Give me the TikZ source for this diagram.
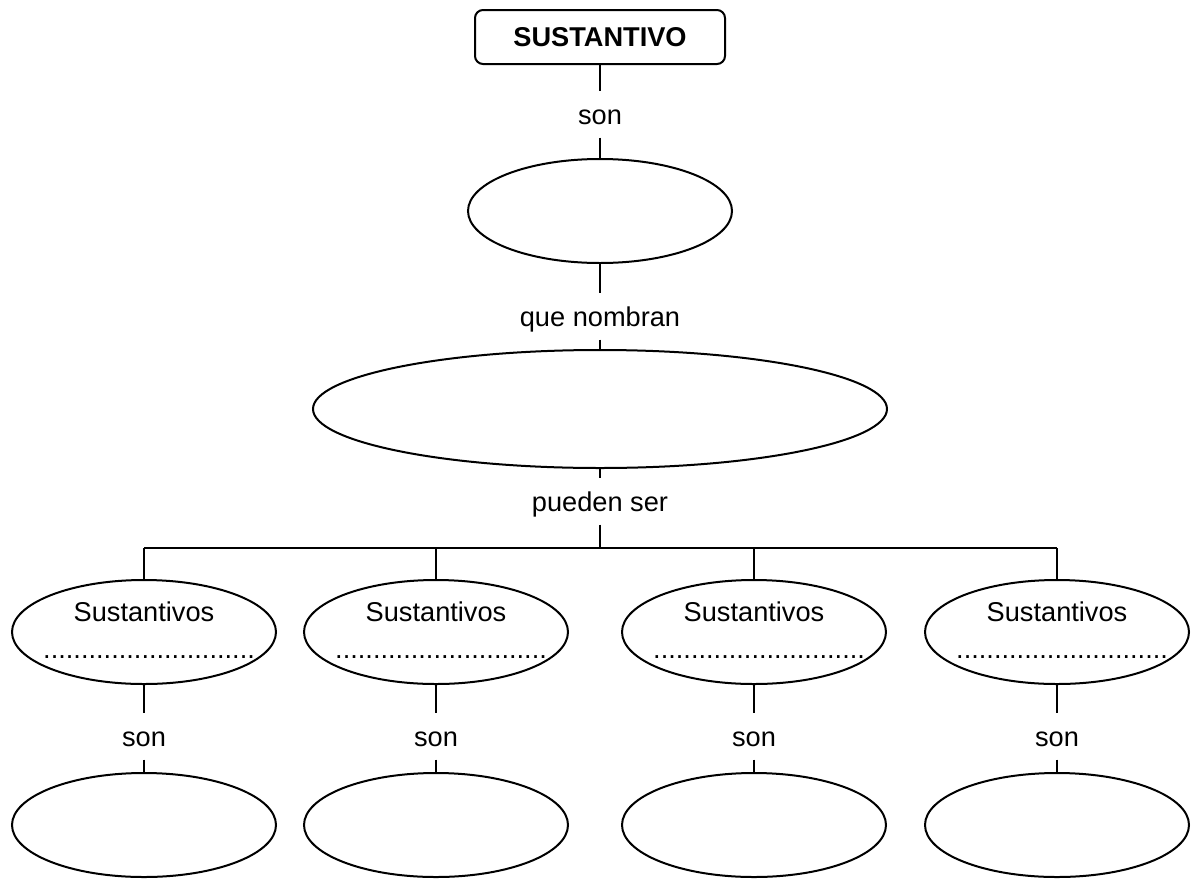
\documentclass[tikz,border=0pt]{standalone}
\usepackage{fontspec}
\setmainfont{Liberation Sans}
\usetikzlibrary{shapes.geometric}

\begin{document}
\begin{tikzpicture}[x=0.5pt, y=-0.5pt, line width=1pt,
  every node/.style={font=\fontsize{13.6}{16}\selectfont},
  oval/.style={draw, ellipse, inner sep=0pt, minimum width=132pt, minimum height=52pt},
  link/.style={inner sep=0pt, minimum height=22.5pt, text height=12pt, text depth=1.5pt}]

  \useasboundingbox (0,0) rectangle (1193,878);

  % Title box
  \node[draw, rounded corners=4pt, minimum width=125pt, minimum height=27pt, inner sep=0pt,
        font=\fontsize{13.6}{16}\selectfont\bfseries] (title) at (600,37) {SUSTANTIVO};

  % Central chain
  \node[link] (son) at (600,114) {son};
  \node[oval] (what) at (600,211) {};
  \node[link] (nombran) at (600,316) {que nombran};
  \node[oval, minimum width=287pt, minimum height=59pt] (things) at (600,409) {};
  \node[link] (pueden) at (600,501) {pueden ser};
  \draw (title) -- (son) -- (what) -- (nombran) -- (things) -- (pueden);

  % Bus to the four kinds
  \coordinate (bus) at (600,548);
  \coordinate (busL) at (144,548);
  \coordinate (busR) at (1057,548);
  \draw (pueden) -- (bus);
  \draw (busL) -- (busR);

  % The four kinds
  \foreach \x [count=\i] in {144,436,754,1057} {
    \coordinate (drop\i) at (\x,548);
    \node[oval] (kind\i) at (\x,632) {};
    \node at (\x,612) {Sustantivos};
    \node[anchor=base] at (\x+5,658) {............................};
    \node[link] (son\i) at (\x,736) {son};
    \node[oval] (ex\i) at (\x,825) {};
    \draw (drop\i) -- (kind\i) -- (son\i) -- (ex\i);
  }
\end{tikzpicture}
\end{document}
